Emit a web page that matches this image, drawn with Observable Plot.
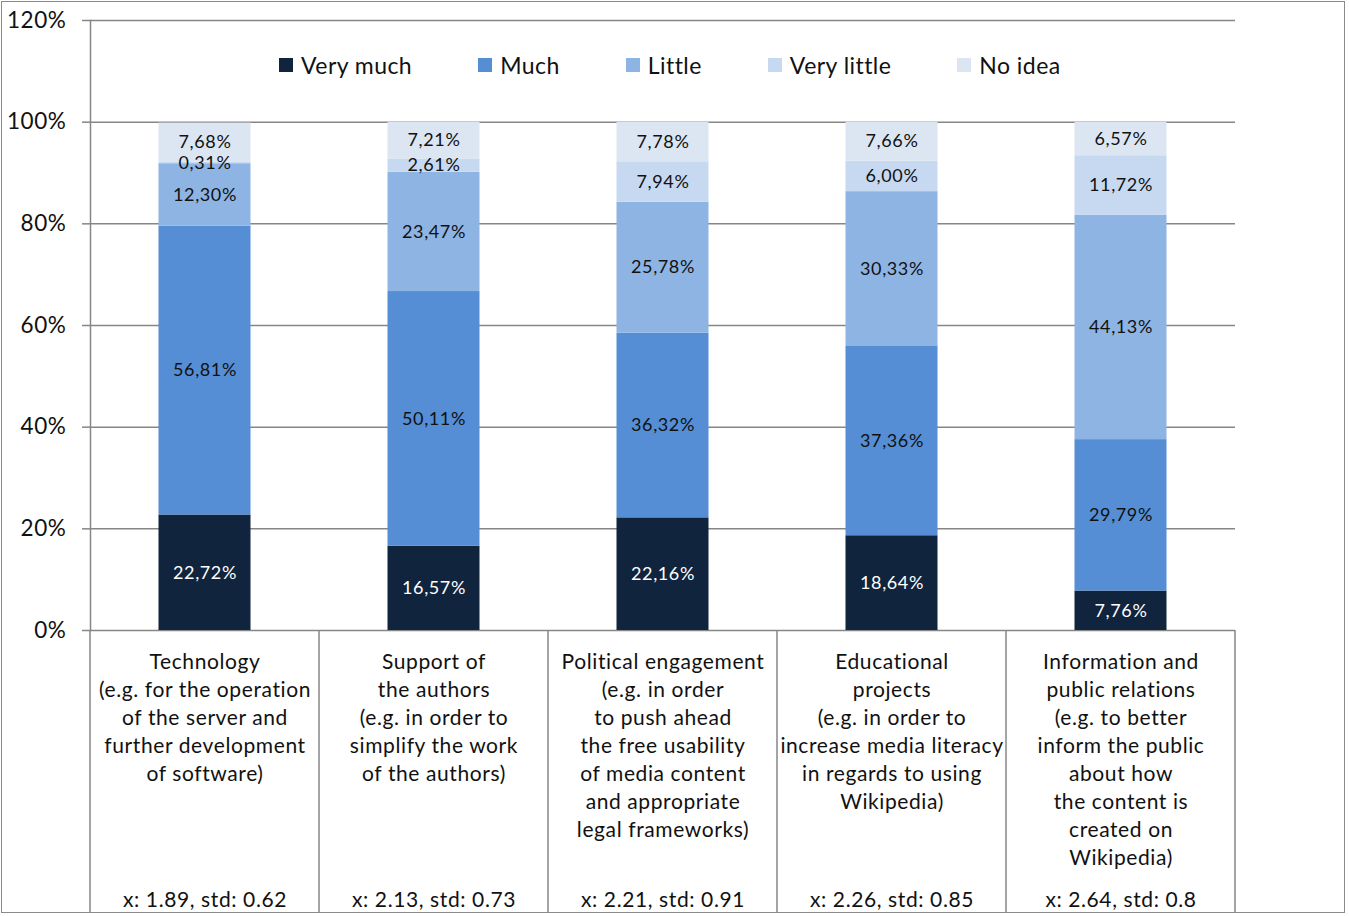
<!DOCTYPE html>
<html>
<head>
<meta charset="utf-8">
<script src="https://cdn.jsdelivr.net/npm/d3@7"></script>
<script src="https://cdn.jsdelivr.net/npm/@observablehq/plot@0.6"></script>
<style>
  html, body { margin: 0; padding: 0; background: #fff; }
  #wrap { position: relative; width: 1349px; height: 916px; font-family: Lato, "Open Sans", sans-serif; letter-spacing: 0.6px; }
  #border { position: absolute; left: 1px; top: 1px; width: 1342px; height: 910px; border: 1.5px solid #8a8a8a; pointer-events: none; }
  #legend { position: absolute; left: 279px; top: 51px; display: flex; gap: 66px; font-size: 23px; letter-spacing: 0.45px; color: #111; }
  .item { display: flex; align-items: center; gap: 8px; }
  .sw { width: 14px; height: 14px; }
</style>
</head>
<body>
<div id="wrap"><div id="chart"></div><div id="legend"></div><div id="border"></div></div>
<script>
const categories = ["Technology", "Support", "Political", "Educational", "Information"];
const categoryLabels = [
  "Technology\n(e.g. for the operation\nof the server and\nfurther development\nof software)",
  "Support of\nthe authors\n(e.g. in order to\nsimplify the work\nof the authors)",
  "Political engagement\n(e.g. in order\nto push ahead\nthe free usability\nof media content\nand appropriate\nlegal frameworks)",
  "Educational\nprojects\n(e.g. in order to\nincrease media literacy\nin regards to using\nWikipedia)",
  "Information and\npublic relations\n(e.g. to better\ninform the public\nabout how\nthe content is\ncreated on\nWikipedia)"
];
const stats = ["x: 1.89, std: 0.62", "x: 2.13, std: 0.73", "x: 2.21, std: 0.91", "x: 2.26, std: 0.85", "x: 2.64, std: 0.8"];
const levels = ["Very much", "Much", "Little", "Very little", "No idea"];
const colors = ["#10243e", "#558ed5", "#8eb4e3", "#c6d9f1", "#dce6f2"];
const veryMuch   = [22.72, 16.57, 22.16, 18.64, 7.76];
const much       = [56.81, 50.11, 36.32, 37.36, 29.79];
const little     = [12.30, 23.47, 25.78, 30.33, 44.13];
const veryLittle = [0.31, 2.61, 7.94, 6.00, 11.72];
const noIdea     = [7.68, 7.21, 7.78, 7.66, 6.57];
const yTicks = [0, 20, 40, 60, 80, 100, 120];

const series = [veryMuch, much, little, veryLittle, noIdea];
const rows = [];
categories.forEach((c, i) => levels.forEach((l, j) => rows.push({cat: c, level: l, value: series[j][i]})));
const fmt = v => v.toFixed(2).replace(".", ",") + "%";
const font = "Lato, 'Open Sans', sans-serif";
const stackOpts = {x: "cat", y: "value", z: "level", order: levels};

const chart = Plot.plot({
  width: 1349, height: 916,
  marginLeft: 90, marginRight: 114, marginTop: 20, marginBottom: 286,
  style: {fontFamily: font, color: "#111", background: "transparent", letterSpacing: "0.6px"},
  x: {domain: categories, padding: 0},
  y: {domain: [0, 120], ticks: yTicks},
  color: {domain: levels, range: colors},
  marks: [
    Plot.gridY(yTicks, {stroke: "#868686", strokeOpacity: 1, strokeWidth: 1.5}),
    Plot.axisY(yTicks, {tickSize: 8, tickPadding: 16, stroke: "#868686", strokeWidth: 1.5, fontSize: 22.5, fill: "#111", tickFormat: d => d + "%", label: null}),
    Plot.frame({anchor: "left", stroke: "#868686", strokeWidth: 1.5}),
    Plot.barY(rows, Plot.stackY({...stackOpts, fill: "level", insetLeft: 68.5, insetRight: 68.5})),
    Plot.text(rows, Plot.filter(d => d.level !== "Very much", Plot.stackY({...stackOpts, text: d => fmt(d.value), fill: "#111", fontSize: 18}))),
    Plot.text(rows, Plot.filter(d => d.level === "Very much", Plot.stackY({...stackOpts, text: d => fmt(d.value), fill: "white", fontSize: 18}))),
    Plot.axisX({tickSize: 0, tickPadding: 19, fontSize: 21, lineHeight: 1.33, fill: "#111", tickFormat: d => categoryLabels[categories.indexOf(d)], label: null}),
    Plot.text(categories, {x: d => d, text: (d, i) => stats[i], frameAnchor: "bottom", dy: 276, fontSize: 21, fill: "#111"})
  ]
});

// table separators below the plot, positioned from the x scale
const xs = chart.scale("x");
const bounds = categories.map(c => xs.apply(c)).concat([xs.apply(categories[categories.length - 1]) + xs.bandwidth]);
const y0 = chart.scale("y").apply(0);
d3.select(chart).append("g")
  .selectAll("line").data(bounds).join("line")
  .attr("x1", d => d).attr("x2", d => d)
  .attr("y1", y0).attr("y2", 913)
  .attr("stroke", "#868686").attr("stroke-width", 1.5);

document.getElementById("chart").appendChild(chart);

const legend = d3.select("#legend");
levels.forEach((l, i) => {
  const it = legend.append("div").attr("class", "item");
  it.append("div").attr("class", "sw").style("background", colors[i]);
  it.append("span").text(l);
});
</script>
</body>
</html>
